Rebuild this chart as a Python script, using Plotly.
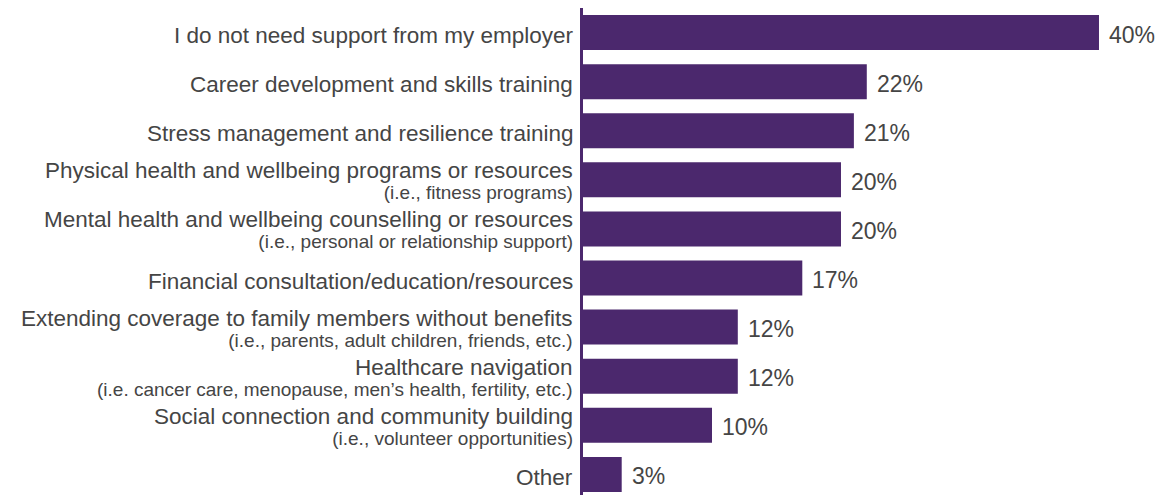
import plotly.graph_objects as go

# Survey responses: support wanted from employer
categories = [
    "I do not need support from my employer",
    "Career development and skills training",
    "Stress management and resilience training",
    "Physical health and wellbeing programs or resources",
    "Mental health and wellbeing counselling or resources",
    "Financial consultation/education/resources",
    "Extending coverage to family members without benefits",
    "Healthcare navigation",
    "Social connection and community building",
    "Other",
]
sublabels = [
    "",
    "",
    "",
    "(i.e., fitness programs)",
    "(i.e., personal or relationship support)",
    "",
    "(i.e., parents, adult children, friends, etc.)",
    "(i.e. cancer care, menopause, men\u2019s health, fertility, etc.)",
    "(i.e., volunteer opportunities)",
    "",
]
values = [40, 22, 21, 20, 20, 17, 12, 12, 10, 3]

PURPLE = "#4B286D"
TEXT = "#454545"
FONT = "Liberation Sans, Arial, sans-serif"
MAIN_SIZE = 22.5
SUB_SIZE = 19

positions = list(range(len(categories)))

fig = go.Figure(
    go.Bar(
        x=values,
        y=positions,
        orientation="h",
        marker=dict(color=PURPLE, line=dict(width=0)),
        width=0.713,
        hoverinfo="skip",
    )
)

# Category labels to the left of the axis (main line + optional note)
for pos, main, sub in zip(positions, categories, sublabels):
    label = f"<span style='font-size:{MAIN_SIZE}px'>{main}</span>"
    if sub:
        label += f"<br><span style='font-size:{SUB_SIZE}px'>{sub}</span>"
    fig.add_annotation(
        x=0, y=pos, xref="paper", yref="y",
        text=label, showarrow=False, align="right",
        xanchor="right", yanchor="middle",
        xshift=-8, yshift=(-1 if sub else -3),
        font=dict(family=FONT, size=16, color=TEXT),
    )

# Percentage labels beside each bar
for pos, val in zip(positions, values):
    fig.add_annotation(
        x=val, y=pos, xref="x", yref="y",
        text=f"{val}%", showarrow=False,
        xanchor="left", yanchor="middle", xshift=8, yshift=-2,
        font=dict(family=FONT, size=23, color=TEXT),
    )

fig.update_layout(
    width=1176, height=495,
    margin=dict(l=583, r=0, t=8, b=0),
    plot_bgcolor="white", paper_bgcolor="white",
    showlegend=False,
    font=dict(family=FONT, color=TEXT),
)
fig.update_xaxes(
    range=[0, 45.97], visible=False, showgrid=False, zeroline=False,
)
fig.update_yaxes(
    range=[9.42, -0.5], showticklabels=False, ticks="",
    showgrid=False, zeroline=False,
    showline=True, linecolor=PURPLE, linewidth=3,
)

fig.write_html("out.html")
